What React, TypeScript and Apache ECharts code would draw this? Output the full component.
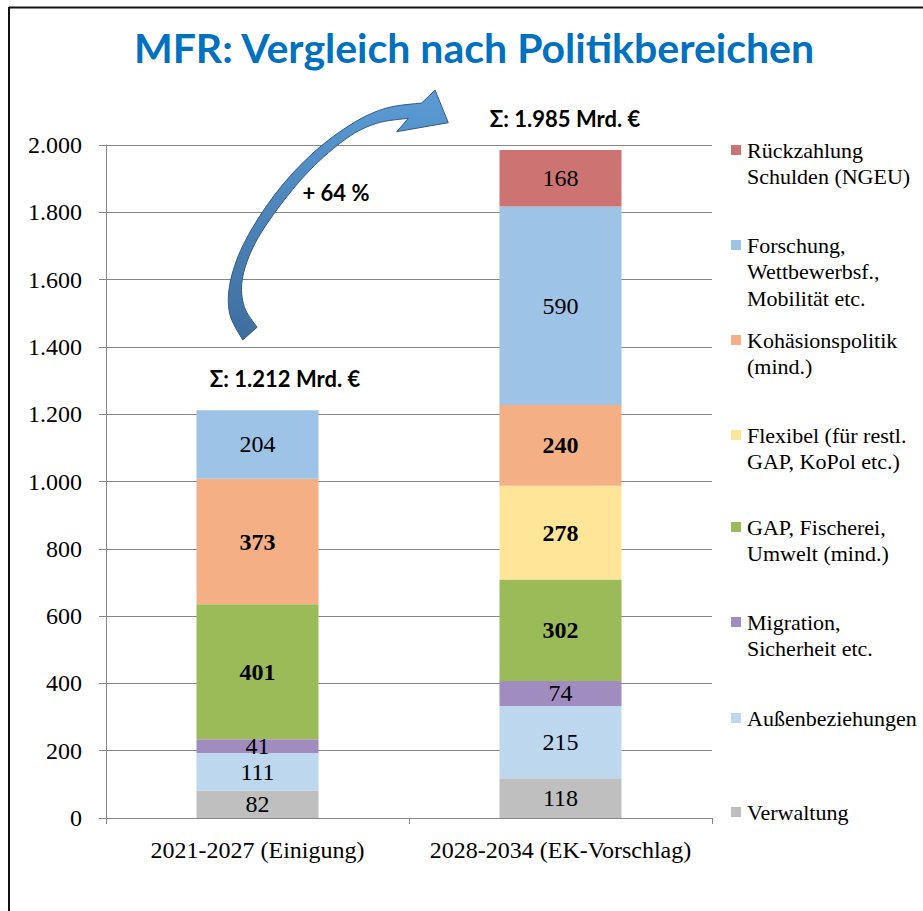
import React, { useEffect, useRef } from "react";
import * as echarts from "echarts";

const categories = ["2021-2027 (Einigung)", "2028-2034 (EK-Vorschlag)"];
const seriesNames = [
  "Verwaltung",
  "Außenbeziehungen",
  "Migration,\nSicherheit etc.",
  "GAP, Fischerei,\nUmwelt (mind.)",
  "Flexibel (für restl.\nGAP, KoPol etc.)",
  "Kohäsionspolitik\n(mind.)",
  "Forschung,\nWettbewerbsf.,\nMobilität etc.",
  "Rückzahlung\nSchulden (NGEU)",
];
const verwaltung = [82, 118];
const aussen = [111, 215];
const migration = [41, 74];
const gap = [401, 302];
const flexibel = [null, 278];
const kohaesion = [373, 240];
const forschung = [204, 590];
const rueckzahlung = [null, 168];
const seriesValues = [verwaltung, aussen, migration, gap, flexibel, kohaesion, forschung, rueckzahlung];
const seriesColors = ["#BFBFBF", "#BDD7EE", "#A18CC0", "#9BBB59", "#FFE597", "#F4B084", "#9DC3E6", "#CD7372"];
const boldLabels = [false, false, false, true, true, true, false, false];
const growthText = "+ 64 %";
const yTicks = { min: 0, max: 2000, interval: 200 };

const fmt = (v: number) => String(v).replace(/\B(?=(\d{3})+(?!\d))/g, ".");

// Curved arrow outline (decoration)
function catmull(pts: number[][]) {
  let d = "";
  for (let i = 0; i < pts.length - 1; i++) {
    const p0 = pts[Math.max(i - 1, 0)];
    const p1 = pts[i];
    const p2 = pts[i + 1];
    const p3 = pts[Math.min(i + 2, pts.length - 1)];
    const c1 = [p1[0] + (p2[0] - p0[0]) / 6, p1[1] + (p2[1] - p0[1]) / 6];
    const c2 = [p2[0] - (p3[0] - p1[0]) / 6, p2[1] - (p3[1] - p1[1]) / 6];
    d += ` C ${c1[0].toFixed(1)} ${c1[1].toFixed(1)} ${c2[0].toFixed(1)} ${c2[1].toFixed(1)} ${p2[0].toFixed(1)} ${p2[1].toFixed(1)}`;
  }
  return d;
}
const outer = [
  [242.7, 340], [229.5, 313], [230.7, 280], [245.7, 240], [276, 193],
  [313, 153], [353.3, 123], [386.7, 108], [421.7, 103],
];
const inner = [
  [408.3, 118.3], [376.7, 123.3], [346.7, 138.3], [310, 170], [276.7, 210],
  [253.3, 246.7], [242.2, 280], [244.3, 306.7], [257, 327.3],
];
const arrowD =
  `M ${outer[0][0]} ${outer[0][1]}` +
  catmull(outer) +
  ` L 435 90 L 448.3 122.7 L 396.7 131.7 L ${inner[0][0]} ${inner[0][1]}` +
  catmull(inner) +
  " Z";
echarts.graphic.registerShape("curvedArrow", echarts.graphic.extendPath(arrowD, {}) as any);

export default function App() {
  const ref = useRef<HTMLDivElement>(null);
  useEffect(() => {
    if (!ref.current) return;
    document.body.style.margin = "0";
    const chart = echarts.init(ref.current, undefined, { renderer: "svg" });
    const serif = "Liberation Serif, Times New Roman, serif";
    const sans = "Lato, sans-serif";

    const totals = categories.map((_, ci) =>
      seriesValues.reduce((s, arr) => s + (arr[ci] ?? 0), 0)
    );

    const series = seriesNames.map((name, i) => ({
      name,
      type: "bar",
      stack: "total",
      barWidth: 122,
      data: seriesValues[i].map((v) => (v == null ? "-" : v)),
      itemStyle: { color: seriesColors[i] },
      label: {
        show: true,
        position: "inside",
        formatter: "{c}",
        color: "#000",
        fontFamily: serif,
        fontSize: 24,
        fontWeight: boldLabels[i] ? "bold" : "normal",
      },
    }));

    // Legend (drawn in reverse stack order, top to bottom)
    const legendTops = [150, 245, 340, 435, 527, 622, 718, 812];
    const legendEls: any[] = [];
    const order = seriesNames.map((_, i) => seriesNames.length - 1 - i);
    order.forEach((si, k) => {
      const y = legendTops[k];
      legendEls.push({
        type: "rect",
        shape: { x: 731, y: y - 5, width: 10, height: 10 },
        style: { fill: seriesColors[si] },
      });
      legendEls.push({
        type: "text",
        x: 747,
        y: y - 13,
        style: {
          text: seriesNames[si],
          fontFamily: serif,
          fontSize: 22,
          fill: "#000",
          lineHeight: 26.5,
          verticalAlign: "top",
        },
      });
    });

    const annot = (x: number, y: number, text: string) => ({
      type: "text",
      x,
      y,
      z: 101,
      style: {
        text,
        fontFamily: sans,
        fontWeight: "bold",
        fontSize: 22,
        fill: "#000",
        align: "center",
        verticalAlign: "middle",
      },
    });

    chart.setOption({
      animation: false,
      backgroundColor: "#fff",
      grid: { left: 106, top: 145, right: 211, bottom: 93, containLabel: false },
      xAxis: {
        type: "category",
        data: categories,
        axisLine: { lineStyle: { color: "#868686", width: 1 } },
        axisTick: { show: true, length: 6, lineStyle: { color: "#868686" } },
        axisLabel: {
          color: "#000",
          fontFamily: serif,
          fontSize: 24,
          margin: 20,
          interval: 0,
        },
      },
      yAxis: {
        type: "value",
        min: yTicks.min,
        max: yTicks.max,
        interval: yTicks.interval,
        axisLine: { show: true, lineStyle: { color: "#868686" } },
        axisTick: { show: true, length: 7, lineStyle: { color: "#868686" } },
        splitLine: { lineStyle: { color: "#868686", width: 1 } },
        axisLabel: {
          color: "#000",
          fontFamily: serif,
          fontSize: 24,
          margin: 24,
          formatter: (v: number) => fmt(v),
        },
      },
      series,
      graphic: [
        {
          type: "line",
          shape: { x1: 9, y1: 7.5, x2: 923, y2: 7.5 },
          style: { stroke: "#111", lineWidth: 2 },
        },
        {
          type: "line",
          shape: { x1: 9, y1: 7, x2: 9, y2: 911 },
          style: { stroke: "#111", lineWidth: 2 },
        },
        {
          type: "text",
          x: 474,
          y: 47,
          style: {
            text: "MFR: Vergleich nach Politikbereichen",
            fontFamily: sans,
            fontWeight: "bold",
            fontSize: 41,
            fill: "#0070C0",
            align: "center",
            verticalAlign: "middle",
          },
        },
        {
          type: "curvedArrow",
          x: 0,
          y: 0,
          style: {
            fill: new echarts.graphic.LinearGradient(0, 1, 0, 0, [
              { offset: 0, color: "#3F6E9E" },
              { offset: 1, color: "#5B9BD5" },
            ]),
            stroke: "#2F5A86",
            lineWidth: 1,
          },
          z: 100,
        },
        annot(336, 192, growthText),
        annot(285, 378, `Σ: ${fmt(totals[0])} Mrd. €`),
        annot(565, 118, `Σ: ${fmt(totals[1])} Mrd. €`),
        ...legendEls,
      ],
    });
    return () => chart.dispose();
  }, []);
  return (
    <div
      ref={ref}
      style={{ position: "absolute", left: 0, top: 0, width: 923, height: 911 }}
    />
  );
}
